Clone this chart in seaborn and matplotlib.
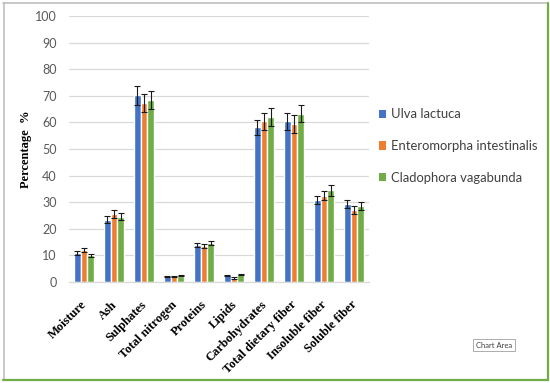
import matplotlib
matplotlib.use("Agg")
import matplotlib.pyplot as plt
import matplotlib.patches as mpatches
import matplotlib.transforms as mtransforms
import seaborn as sns
import pandas as pd
import numpy as np

categories = ["Moisture", "Ash", "Sulphates", "Total nitrogen", "Proteins", "Lipids",
              "Carbohydrates", "Total dietary fiber", "Insoluble fiber", "Soluble fiber"]
series = ["Ulva lactuca", "Enteromorpha intestinalis", "Cladophora vagabunda"]
ulva = [10.8, 23.4, 70.2, 2.1, 13.9, 2.5, 58.1, 60.4, 30.9, 29.3]
entero = [12.0, 25.4, 67.4, 2.1, 13.4, 1.5, 60.5, 59.5, 32.4, 27.0]
clado = [10.0, 24.6, 68.4, 2.4, 14.8, 2.9, 62.1, 63.3, 34.4, 28.6]
ulva_err = [0.8, 1.4, 3.5, 0.2, 0.7, 0.3, 2.9, 3.1, 1.6, 1.6]
entero_err = [0.7, 1.5, 3.4, 0.2, 0.7, 0.2, 3.2, 3.3, 1.7, 1.4]
clado_err = [0.6, 1.3, 3.5, 0.2, 0.8, 0.2, 3.3, 3.1, 1.9, 1.6]
colors = ["#4472C4", "#ED7D31", "#70AD47"]

values = [ulva, entero, clado]
errors = [ulva_err, entero_err, clado_err]
df = pd.DataFrame({
    "Component": categories * 3,
    "Species": [s for s in series for _ in categories],
    "Value": ulva + entero + clado,
})

sns.set_theme(style="white")
plt.rcParams["font.family"] = ["Lato", "DejaVu Sans"]

fig = plt.figure(figsize=(5.5, 3.83), dpi=100)
ax = fig.add_axes([69/550, 1-282/383, 300/550, 266/383])

sns.barplot(data=df, x="Component", y="Value", hue="Species", order=categories,
            hue_order=series, palette=colors, width=0.66, gap=0, errorbar=None,
            saturation=1, ax=ax, legend=False)

# error bars at bar centers
bar_conts = list(ax.containers)
for i, cont in enumerate(bar_conts):
    xs = [p.get_x() + p.get_width()/2 for p in cont.patches]
    ax.errorbar(xs, values[i], yerr=errors[i], fmt="none", ecolor="#1a1a1a",
                elinewidth=0.8, capsize=2.2, capthick=0.8, zorder=5)

ax.set_ylim(0, 100)
ax.set_xlim(-0.5, len(categories)-0.5)
ax.set_yticks(range(0, 101, 10))
ax.yaxis.grid(True, color="#d9d9d9", linewidth=0.9)
ax.set_axisbelow(True)
for s in ["top", "right", "left"]:
    ax.spines[s].set_visible(False)
ax.spines["bottom"].set_color("#d9d9d9")
ax.spines["bottom"].set_linewidth(0.9)
ax.tick_params(axis="y", labelsize=9, colors="#595959", length=0, pad=9)
ax.tick_params(axis="x", length=0, pad=12)
ax.set_xticks(range(len(categories)))
ax.set_xticklabels(categories, rotation=45, ha="right", rotation_mode="anchor",
                   family="Liberation Serif", fontweight="bold", fontsize=9, color="#000000")
shift = mtransforms.ScaledTranslation(-3/100, 0, fig.dpi_scale_trans)
for lbl in ax.get_xticklabels():
    lbl.set_transform(lbl.get_transform() + shift)
ax.set_xlabel("")
ax.set_ylabel("Percentage  %", family="Liberation Serif", fontweight="bold",
              fontsize=9, color="#000000", labelpad=2)

handles = [mpatches.Patch(facecolor=c, edgecolor="none") for c in colors]
fig.legend(handles, series, loc="center left", bbox_to_anchor=(372/550, 1-146/383),
           frameon=False, fontsize=9.4, labelcolor="#404040", handlelength=0.6,
           handleheight=0.6, handletextpad=0.35, labelspacing=1.5, borderpad=0)

# chart area frame
fig.add_artist(plt.Line2D([3/550, 547/550], [1-2.5/383, 1-2.5/383], color="#bfbfbf", lw=1.2, transform=fig.transFigure))
fig.add_artist(plt.Line2D([3.5/550, 3.5/550], [1-2.5/383, 1-380/383], color="#bfbfbf", lw=1.2, transform=fig.transFigure))
fig.add_artist(plt.Line2D([547.5/550, 547.5/550], [1-2.5/383, 1-380/383], color="#70AD47", lw=1.6, transform=fig.transFigure))
fig.add_artist(plt.Line2D([3/550, 548/550], [1-380/383, 1-380/383], color="#70AD47", lw=1.6, transform=fig.transFigure))

# "Chart Area" tooltip
fig.text(494/550, 1-345/383, "Chart Area", fontsize=5.5, color="#404040", ha="center", va="center",
         bbox=dict(boxstyle="square,pad=0.35", facecolor="white", edgecolor="#a0a0a0", linewidth=0.6))

fig.savefig("out.png", dpi=100)
